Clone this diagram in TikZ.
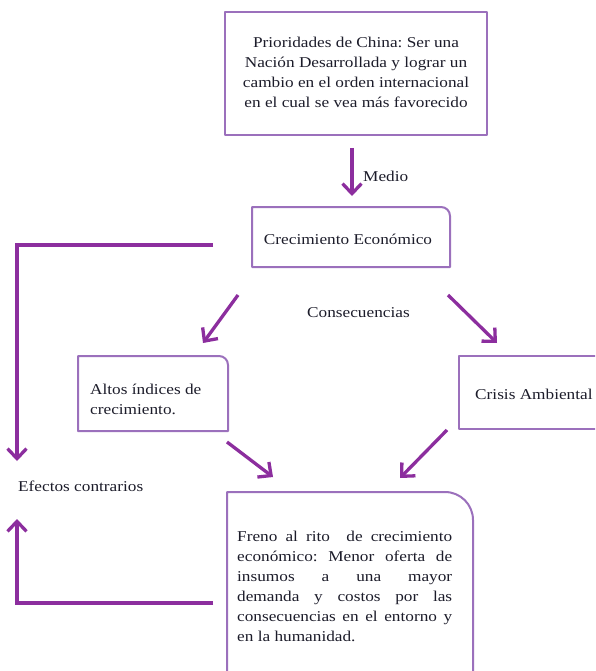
\documentclass[tikz,border=0pt]{standalone}
\usepackage{fontspec}
\setmainfont{Liberation Serif}[FakeStretch=1.15]
\usetikzlibrary{arrows.meta,calc}
\definecolor{boxc}{RGB}{155,112,188}
\definecolor{arrc}{RGB}{140,46,158}
\definecolor{txtc}{RGB}{28,28,42}
\tikzset{
  boxline/.style={draw=boxc, line width=2pt, line join=round},
  arrow/.style={draw=arrc, line width=3.3pt, -{Straight Barb[length=10pt,width=19pt]}},
  txt/.style={font=\fontsize{15}{20}\selectfont, text=txtc, inner sep=0pt},
}
\frenchspacing
\begin{document}
\begin{tikzpicture}[x=1pt,y=-1pt]
\clip (0,0) rectangle (595,671);
\fill[white] (0,0) rectangle (595,671);
% box outlines
\draw[boxline] (225,12) rectangle (487,135);
\draw[boxline] (252,267) -- (252,207) -- (441,207) .. controls (446,207) and (450,211) .. (450,216) -- (450,267) -- cycle;
\draw[boxline] (78,431) -- (78,356) -- (219,356) .. controls (224,356) and (228,360) .. (228,365) -- (228,431) -- cycle;
\draw[boxline] (459,356) rectangle (620,429);
\draw[boxline] (227,700) -- (227,492) -- (445,492) .. controls (460.5,492) and (473,504.5) .. (473,520) -- (473,700);
% texts
\node[txt, anchor=north, align=center] (prior) at (356,36.5) {Prioridades de China: Ser una\\Nación Desarrollada y lograr un\\cambio en el orden internacional\\en el cual se vea más favorecido};
\node[txt, anchor=base] (crec) at (348,244) {Crecimiento Económico};
\node[txt, anchor=base west] (medio) at (363,182) {Medio};
\node[txt, anchor=base west] (conse) at (307,317) {Consecuencias};
\node[txt, anchor=north west, align=left] (altos) at (90,384) {Altos índices de\\crecimiento.};
\node[txt, anchor=base west] (crisis) at (475,399) {Crisis Ambiental};
\node[txt, anchor=base west] (efectos) at (18,491) {Efectos contrarios};
\node[txt, anchor=north west, text width=215pt, align=justify] (freno) at (237,531) {Freno al rito\ \ de crecimiento\linebreak económico: Menor oferta de\linebreak insumos a una mayor\linebreak demanda y costos por las\linebreak consecuencias en el entorno y\linebreak en la humanidad.};
% arrow end points
\coordinate (m1) at (352,148); \coordinate (m2) at (352,196);
\coordinate (f1) at (213,245); \coordinate (f2) at (17,461);
\coordinate (a1) at (238,295); \coordinate (a2) at (203,343);
\coordinate (c1) at (448,295); \coordinate (c2) at (497,343);
\coordinate (b1) at (227,442); \coordinate (b2) at (273,477);
\coordinate (d1) at (447,430); \coordinate (d2) at (400,478);
\coordinate (r1) at (213,603); \coordinate (r2) at (17,519);
\draw[arrow] (m1) -- (m2);
\draw[arrow] (f1) -| (f2);
\draw[arrow] (a1) -- (a2);
\draw[arrow] (c1) -- (c2);
\draw[arrow] (b1) -- (b2);
\draw[arrow] (d1) -- (d2);
\draw[arrow] (r1) -| (r2);
\end{tikzpicture}
\end{document}
